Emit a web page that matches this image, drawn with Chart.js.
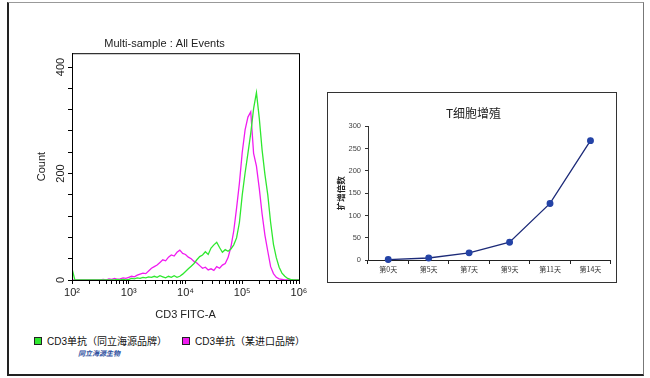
<!DOCTYPE html>
<html lang="zh">
<head>
<meta charset="UTF-8">
<title>CD3 flow / T cell expansion</title>
<script src="https://cdn.jsdelivr.net/npm/chart.js"></script>
<style>
    * { margin: 0; padding: 0; box-sizing: border-box; }
    body {
        width: 650px; height: 378px; background: #fff;
        position: relative; overflow: hidden;
        font-family: "Liberation Sans", "Noto Sans CJK SC", sans-serif;
    }
    .frame {
        position: absolute; left: 7px; top: 2px; width: 637px; height: 374px;
        border-left: 2px solid #222; border-bottom: 2px solid #222;
        border-top: 1px solid #999; border-right: 1px solid #777;
    }
    #flowChart { position: absolute; left: 30px; top: 30px; }
    .growth-box {
        position: absolute; left: 327px; top: 92px; width: 290px; height: 191px;
        border: 1px solid #333;
    }
    #growthChart { position: absolute; left: 0; top: 0; }
    .legend {
        position: absolute; left: 34px; top: 333px;
        display: flex; align-items: center;
        font-size: 10px; color: #111;
        font-family: "Liberation Sans", "Noto Sans CJK SC", sans-serif;
    }
    .legend .item { display: flex; align-items: center; margin-right: 15px; }
    .legend .swatch { width: 8px; height: 8px; border: 1px solid #222; margin-right: 5px; }
    .logo {
        position: absolute; left: 78px; top: 348px;
        font-family: "Noto Sans CJK SC", sans-serif;
        font-size: 7px; font-weight: bold; font-style: italic; color: #2a4c9c;
    }
</style>
</head>
<body>
<div class="frame"></div>

<canvas id="flowChart" width="296" height="300"></canvas>

<div class="growth-box">
    <canvas id="growthChart" width="288" height="189"></canvas>
</div>

<div class="legend" id="flowLegend"></div>
<div class="logo">同立海源生物</div>

<script>
// ---- left: flow histogram (bins are log10 of CD3 FITC-A) ----
const binLog = [
    2.00, 2.05, 2.10, 2.15, 2.20, 2.25, 2.30, 2.35, 2.40, 2.45,
    2.50, 2.55, 2.60, 2.65, 2.70, 2.75, 2.80, 2.85, 2.90, 2.95,
    3.00, 3.05, 3.10, 3.15, 3.20, 3.25, 3.30, 3.35, 3.40, 3.45,
    3.50, 3.55, 3.60, 3.65, 3.70, 3.75, 3.80, 3.85, 3.90, 3.95,
    4.00, 4.05, 4.10, 4.15, 4.20, 4.25, 4.30, 4.35, 4.40, 4.45,
    4.50, 4.55, 4.60, 4.65, 4.70, 4.75, 4.80, 4.85, 4.90, 4.95,
    5.00, 5.05, 5.10, 5.15, 5.20, 5.25, 5.30, 5.35, 5.40, 5.45,
    5.50, 5.55, 5.60, 5.65, 5.70, 5.75, 5.80, 5.85, 5.90, 5.95,
    6.00
];
const greenCounts = [
    22, 0, 0, 0, 0, 0, 0, 0, 0, 0,
    0, 0, 0, 0, 0, 0, 1, 0, 1, 0,
    1, 3, 2, 4, 3, 5, 4, 6, 5, 7,
    5, 8, 6, 4, 7, 5, 8, 5, 7, 11,
    16, 21, 26, 31, 38, 44, 47, 53, 48, 60,
    66, 71, 61, 52, 57, 54, 58, 66, 79, 108,
    160, 201, 238, 276, 322, 352, 304, 244, 198, 160,
    108, 67, 42, 24, 13, 7, 3, 1, 0, 0,
    0
];
const magentaCounts = [
    0, 0, 0, 0, 0, 0, 0, 0, 0, 0,
    0, 1, 0, 2, 1, 3, 1, 2, 4, 3,
    5, 7, 6, 9, 11, 13, 12, 17, 22, 25,
    28, 33, 38, 36, 43, 47, 45, 52, 56, 50,
    48, 43, 40, 35, 32, 27, 22, 24, 19, 21,
    18, 25, 22, 28, 31, 42, 62, 92, 135, 182,
    240, 282, 306, 316, 238, 214, 172, 124, 84, 54,
    25, 12, 5, 2, 1, 0, 0, 0, 0, 0,
    0
];
const seriesNames = ['CD3单抗（同立海源品牌）', 'CD3单抗（某进口品牌）'];
const seriesColors = ['#2fe82f', '#f01cf0'];
const decades = [2, 3, 4, 5, 6];
const countLabels = [0, 200, 400];

// ---- right: T cell expansion ----
const days = ['第0天', '第5天', '第7天', '第9天', '第11天', '第14天'];
const foldExpansion = [1, 4.5, 16, 40, 127, 268];

const sup = { 2: '²', 3: '³', 4: '⁴', 5: '⁵', 6: '⁶' };
const latin = '"Liberation Sans", "Noto Sans CJK SC", sans-serif';
const cjk = '"Noto Sans CJK SC", sans-serif';

function toPoints(counts) {
    return binLog.map((d, i) => ({ x: Math.pow(10, d), y: counts[i] }));
}

// frame round the plot + rotated count labels (FlowJo style)
const flowDecor = {
    id: 'flowDecor',
    afterDraw(chart) {
        const { ctx, chartArea, scales } = chart;
        ctx.save();
        ctx.strokeStyle = '#000';
        ctx.lineWidth = 1;
        ctx.strokeRect(chartArea.left + 0.5, chartArea.top + 0.5,
            chartArea.right - chartArea.left, chartArea.bottom - chartArea.top);
        ctx.fillStyle = '#222';
        ctx.font = '11px ' + latin;
        ctx.textAlign = 'center';
        ctx.textBaseline = 'middle';
        countLabels.forEach(v => {
            const y = scales.y.getPixelForValue(v);
            ctx.save();
            ctx.translate(31, y);
            ctx.rotate(-Math.PI / 2);
            ctx.fillText(String(v), 0, 0);
            ctx.restore();
        });
        ctx.restore();
    }
};

const flowChart = new Chart(document.getElementById('flowChart'), {
    type: 'line',
    data: {
        datasets: [
            { label: seriesNames[0], data: toPoints(greenCounts), borderColor: seriesColors[0], backgroundColor: seriesColors[0] },
            { label: seriesNames[1], data: toPoints(magentaCounts), borderColor: seriesColors[1], backgroundColor: seriesColors[1] }
        ]
    },
    options: {
        responsive: false,
        animation: false,
        layout: { padding: { left: 0, right: 27, top: 0, bottom: 0 } },
        elements: {
            line: { borderWidth: 1.3, tension: 0 },
            point: { radius: 0 }
        },
        plugins: {
            legend: { display: false },
            tooltip: { enabled: false },
            title: {
                display: true,
                text: 'Multi-sample : All Events',
                color: '#222',
                font: { family: latin, size: 11, weight: 'normal' },
                padding: { top: 7, bottom: 3 }
            }
        },
        scales: {
            x: {
                type: 'logarithmic',
                min: 100,
                max: 1000000,
                z: 1,
                afterFit(scale) { scale.height = 50; },
                afterBuildTicks(scale) {
                    const ticks = [];
                    decades.forEach(n => {
                        if (n === 6) { ticks.push({ value: Math.pow(10, n), major: true }); return; }
                        for (let k = 1; k <= 9; k++) ticks.push({ value: k * Math.pow(10, n), major: k === 1 });
                    });
                    scale.ticks = ticks;
                },
                border: { display: true, color: '#000', width: 1 },
                grid: { drawOnChartArea: false, drawTicks: true, tickLength: 4, color: '#000' },
                ticks: {
                    autoSkip: false,
                    maxRotation: 0,
                    minRotation: 0,
                    padding: 2,
                    color: '#222',
                    font: { family: latin, size: 11 },
                    callback(v) {
                        const e = Math.log10(v);
                        return Math.abs(e - Math.round(e)) < 1e-9 ? '10' + sup[Math.round(e)] : '';
                    }
                },
                title: {
                    display: true,
                    text: 'CD3 FITC-A',
                    color: '#222',
                    font: { family: latin, size: 11 },
                    padding: { top: 8, bottom: 8 }
                }
            },
            y: {
                min: 0,
                max: 426,
                z: 1,
                afterFit(scale) { scale.width = 42; },
                afterBuildTicks(scale) {
                    const ticks = [];
                    for (let v = 0; v <= 400; v += 40) ticks.push({ value: v });
                    scale.ticks = ticks;
                },
                border: { display: true, color: '#000', width: 1 },
                grid: { drawOnChartArea: false, drawTicks: true, tickLength: 4, color: '#000' },
                ticks: { display: false },
                title: {
                    display: true,
                    text: 'Count',
                    color: '#222',
                    font: { family: latin, size: 11 },
                    padding: { top: 5, bottom: 5 }
                }
            }
        }
    },
    plugins: [flowDecor]
});

// legend under the histogram, built from the datasets
const legendEl = document.getElementById('flowLegend');
flowChart.data.datasets.forEach(ds => {
    const item = document.createElement('div');
    item.className = 'item';
    const sw = document.createElement('span');
    sw.className = 'swatch';
    sw.style.background = ds.backgroundColor;
    const txt = document.createElement('span');
    txt.textContent = ds.label;
    item.appendChild(sw);
    item.appendChild(txt);
    legendEl.appendChild(item);
});

new Chart(document.getElementById('growthChart'), {
    type: 'line',
    data: {
        labels: days,
        datasets: [{
            label: 'T细胞增殖',
            data: foldExpansion,
            borderColor: '#1c2a78',
            borderWidth: 1.3,
            pointRadius: 2.8,
            pointBackgroundColor: '#2443a6',
            pointBorderColor: '#2443a6',
            tension: 0,
            clip: false
        }]
    },
    options: {
        responsive: false,
        animation: false,
        layout: { padding: { left: 6, right: 3, top: 0, bottom: 0 } },
        plugins: {
            legend: { display: false },
            tooltip: { enabled: false },
            title: {
                display: true,
                text: 'T细胞增殖',
                color: '#222',
                font: { family: cjk, size: 12, weight: 'normal' },
                padding: { top: 13, bottom: 6 }
            }
        },
        scales: {
            x: {
                type: 'category',
                offset: true,
                afterFit(scale) { scale.height = 22; },
                border: { display: true, color: '#222', width: 1 },
                grid: { offset: true, drawOnChartArea: false, drawTicks: true, tickLength: 4, color: '#222' },
                ticks: { color: '#333', padding: 1, font: { family: cjk, size: 7 } }
            },
            y: {
                min: 0,
                max: 300,
                afterFit(scale) { scale.width = 34; },
                border: { display: true, color: '#333', width: 1 },
                grid: { drawOnChartArea: false, drawTicks: true, tickLength: 3, color: '#333' },
                ticks: { stepSize: 50, padding: 4, color: '#444', font: { family: latin, size: 7.5 } },
                title: {
                    display: true,
                    text: '扩增倍数',
                    color: '#222',
                    font: { family: cjk, size: 8.5, weight: 'bold' },
                    padding: { top: 2, bottom: 0 }
                }
            }
        }
    }
});
</script>
</body>
</html>
